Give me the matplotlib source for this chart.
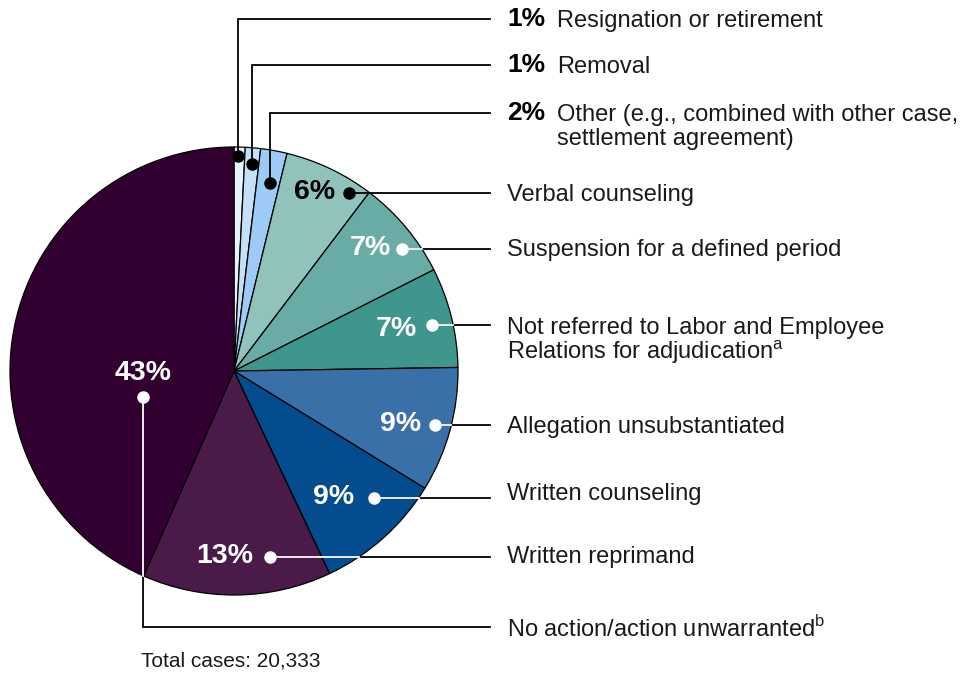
import numpy as np
import matplotlib
matplotlib.use("Agg")
import matplotlib.pyplot as plt

plt.rcParams['font.family'] = ['Liberation Sans', 'DejaVu Sans']
plt.rcParams['mathtext.fontset'] = 'custom'
plt.rcParams['mathtext.rm'] = 'Liberation Sans'

# ---- data (clockwise from top) ----
categories = ["Resignation or retirement", "Removal",
              "Other (e.g., combined with other case,\nsettlement agreement)",
              "Verbal counseling", "Suspension for a defined period",
              "Not referred to Labor and Employee\nRelations for adjudication$^\\mathrm{a}$",
              "Allegation unsubstantiated", "Written counseling",
              "Written reprimand", "No action/action unwarranted$^\\mathrm{b}$"]
values = [0.8, 1.1, 1.9, 6.5, 7.2, 7.2, 9.0, 9.2, 13.6, 43.3]
pct_labels = ["1%", "1%", "2%", "6%", "7%", "7%", "9%", "9%", "13%", "43%"]
colors = ["#e8f2fc", "#c6e0fa", "#9dcbf6", "#8fc3bc", "#69aca6", "#3f968c",
          "#3a70a8", "#034c8e", "#4a1b48", "#310030"]
total_text = "Total cases: 20,333"

W, H = 978, 674
fig = plt.figure(figsize=(W / 100, H / 100), dpi=100)
ax = fig.add_axes([0, 0, 1, 1])

def Y(y):
    return H - y

cx, cy, R = 234, 371, 224
ax.pie(values, colors=colors, startangle=90, counterclock=False,
       center=(cx, Y(cy)), radius=R,
       wedgeprops=dict(edgecolor="black", linewidth=0.9))
ax.set_xlim(0, W)
ax.set_ylim(0, H)
ax.set_aspect('equal')
ax.axis('off')

TX = 507     # label text x
LX = 490     # leader line end x
lw = 1.3
FS = 17      # label font size
PFS = 20.5   # in-pie pct font size
TC = '#1a1a1a'
LSP = 24     # line spacing px

def circle_x(y):
    return cx + np.sqrt(max(R**2 - (y - cy)**2, 0))

def label(x, y, text):
    for k, line in enumerate(text.split("\n")):
        ax.text(x, Y(y + 2 + k * LSP), line, fontsize=FS, va='center', ha='left', color=TC)

# small slices: vertical then horizontal leader, bold pct in text column
top_layout = [(238, 156, 19), (252, 164, 65), (270, 183, 113)]
for i, (dx, dy, ly) in enumerate(top_layout):
    ax.plot([dx, dx, LX], [Y(dy), Y(ly), Y(ly)], color="black", lw=lw,
            solid_joinstyle='miter', zorder=3)
    ax.plot(dx, Y(dy), 'o', color="black", ms=8, zorder=4)
    ax.text(TX, Y(ly), pct_labels[i], fontsize=19, fontweight='bold',
            va='center', ha='left', color='black')
    label(557, ly, categories[i])

# horizontal leader slices
side_layout = [
    # idx, dot x, line y, pct x, pct y, pct color, dot color, text y
    (3, 349, 193, 315, 192, 'black', 'black', 193),
    (4, 402, 249, 370, 248, 'white', 'white', 248),
    (5, 432, 325, 396, 329, 'white', 'white', 326),
    (6, 435, 425, 401, 424, 'white', 'white', 425),
    (7, 374, 498, 334, 497, 'white', 'white', 492),
    (8, 270, 557, 225, 556, 'white', 'white', 555),
]
for idx, dx, ly, px, py, pc, dc, ty in side_layout:
    ax.plot([dx, LX], [Y(ly), Y(ly)], color="black", lw=lw, zorder=3)
    if dc == 'white':
        ax.plot([dx, circle_x(ly)], [Y(ly), Y(ly)], color="white", lw=lw, zorder=3.5)
    ax.plot(dx, Y(ly), 'o', color=dc, ms=8, zorder=4)
    ax.text(px, Y(py), pct_labels[idx], fontsize=PFS, fontweight='bold',
            va='center', ha='center', color=pc, zorder=5)
    label(TX, ty, categories[idx])

# no action: vertical down then horizontal
nx, ny, nly = 143, 397, 627
bottom_y = cy + np.sqrt(R**2 - (nx - cx)**2)
ax.plot([nx, nx, LX], [Y(ny), Y(nly), Y(nly)], color="black", lw=lw,
        solid_joinstyle='miter', zorder=3)
ax.plot([nx, nx], [Y(ny), Y(bottom_y)], color="white", lw=lw, zorder=3.5)
ax.plot(nx, Y(ny), 'o', color='white', ms=8, zorder=4)
ax.text(nx, Y(373), pct_labels[9], fontsize=PFS, fontweight='bold',
        va='center', ha='center', color='white', zorder=5)
label(TX, 627, categories[9])

ax.text(141, Y(661), total_text, fontsize=15, va='center', ha='left', color=TC)

fig.savefig("out.png", dpi=100)
